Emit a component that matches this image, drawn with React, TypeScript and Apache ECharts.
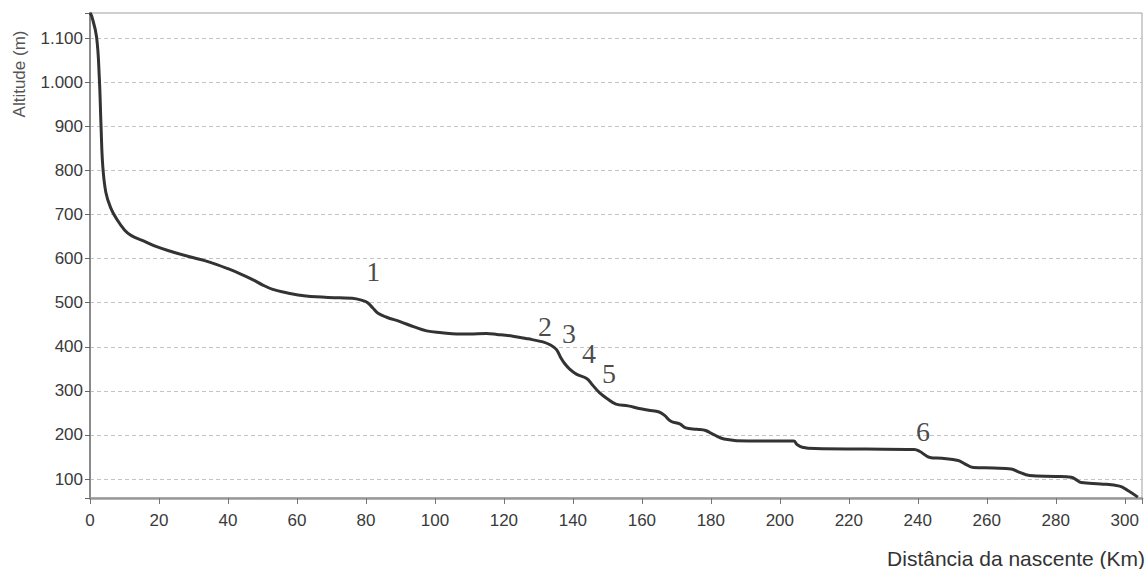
import React, { useEffect, useRef } from "react";
import * as echarts from "echarts";

// River longitudinal profile: distance from source (km) and altitude (m)
const distanceKm: number[] = [
  0, 0.5, 1.9, 2.7, 3.2, 3.7, 4.6, 6, 7.7, 10, 12, 15.5, 19.3, 24, 28.9, 33, 36.6, 40, 43.4, 47,
  50.1, 53, 56, 62.6, 72.3, 76, 79, 80.5, 82, 83.5, 86, 89.9, 94, 97.6, 102, 106.3, 110, 114.9,
  118, 122.6, 127, 131.3, 133.5, 135.2, 136.5, 137.6, 139, 141, 144, 145.5, 147.7, 150, 152.5,
  156, 159.2, 162, 165, 166.5, 168.4, 171, 172.7, 176, 178.5, 181, 183.8, 191, 198, 204, 205,
  206.5, 210.3, 225, 239, 240.5, 243.5, 247, 251.7, 253.5, 256.1, 262, 267.1, 269, 272.4, 280,
  284.5, 286, 287.4, 293, 298.5, 300.9, 303.8,
];
const altitudeM: number[] = [
  1157, 1150, 1103, 1010, 900, 810, 750, 715, 690, 665, 652, 640, 627, 615, 604, 596, 587, 577,
  566, 553, 540, 530, 524, 515, 511, 510, 505, 500, 488, 476, 467, 457, 445, 436, 432, 429, 429,
  430, 428, 424, 418, 411, 404, 394, 375, 362, 350, 338, 328, 315, 296, 282, 270, 266, 260, 256,
  252, 245, 231, 225, 216, 213, 210, 200, 191, 186, 186, 186, 178, 172, 169, 168, 167, 163, 149,
  147, 142, 135, 126, 125, 123, 117, 108, 106, 104, 98, 92, 89, 84, 74, 59,
];

// Numbered annotations (label, km, altitude)
const annotationLabels: string[] = ["1", "2", "3", "4", "5", "6"];
const annotationKm: number[] = [82.1, 131.9, 138.9, 144.7, 150.5, 241.5];
const annotationAlt: number[] = [570, 447, 431, 384, 340, 207];

const xTickStep = 20;
const yTickStep = 100;

const fmtY = (v: number): string => {
  if (v % yTickStep !== 0) return "";
  if (v >= 1000) {
    return `${Math.floor(v / 1000)}.${String(v % 1000).padStart(3, "0")}`;
  }
  return String(v);
};

export default function App() {
  const ref = useRef<HTMLDivElement>(null);

  useEffect(() => {
    document.body.style.margin = "0";
    if (!ref.current) return;
    const chart = echarts.init(ref.current, undefined, { renderer: "svg" });
    const lineData = distanceKm.map((d, i) => [d, altitudeM[i]]);
    const annData = annotationLabels.map((name, i) => ({
      name,
      value: [annotationKm[i], annotationAlt[i]],
    }));
    chart.setOption({
      animation: false,
      backgroundColor: "#ffffff",
      grid: {
        left: 90,
        right: 6,
        top: 13,
        bottom: 71,
        show: true,
        borderColor: "#a0a0a0",
        borderWidth: 1,
        outerBoundsMode: "none",
      },
      xAxis: {
        type: "value",
        min: 0,
        max: 305,
        interval: xTickStep,
        axisLine: { show: true, onZero: false, lineStyle: { color: "#999999", width: 2.5 } },
        axisTick: { show: true, length: 6, lineStyle: { color: "#777777", width: 1 } },
        axisLabel: {
          margin: 14,
          fontFamily: "Liberation Sans",
          fontSize: 17,
          color: "#3a3a3a",
          formatter: (v: number) => (v % xTickStep === 0 ? String(v) : ""),
        },
        splitLine: { show: false },
      },
      yAxis: {
        type: "value",
        min: 57,
        max: 1157,
        splitNumber: 11,
        minInterval: yTickStep,
        maxInterval: yTickStep,
        axisLine: { show: true, onZero: false, lineStyle: { color: "#8a8a8a", width: 2 } },
        axisTick: { show: true, length: 5, lineStyle: { color: "#666666", width: 1 } },
        axisLabel: {
          margin: 7,
          fontFamily: "Liberation Sans",
          fontSize: 17,
          color: "#3a3a3a",
          formatter: fmtY,
        },
        splitLine: {
          show: true,
          showMinLine: false,
          showMaxLine: false,
          lineStyle: { color: "#c4c4c4", width: 1, type: [4, 3] },
        },
      },
      series: [
        {
          type: "line",
          data: lineData,
          showSymbol: false,
          smooth: 0.4,
          lineStyle: { color: "#333333", width: 3 },
          z: 3,
        },
        {
          type: "scatter",
          data: annData,
          symbolSize: 1,
          itemStyle: { color: "rgba(0,0,0,0)" },
          label: {
            show: true,
            position: "inside",
            formatter: (p: any) => p.name,
            fontFamily: "Liberation Serif",
            fontSize: 28,
            color: "#1a1a1a",
          },
          z: 4,
        },
      ],
      graphic: [
        {
          type: "text",
          x: 19,
          y: 74,
          rotation: Math.PI / 2,
          style: {
            text: "Altitude (m)",
            font: '17px "Liberation Sans"',
            fill: "#555555",
            align: "center",
            verticalAlign: "middle",
          },
        },
        {
          type: "text",
          x: 1145,
          y: 558,
          style: {
            text: "Distância da nascente (Km)",
            font: '21px "Liberation Sans"',
            fill: "#333333",
            align: "right",
            verticalAlign: "middle",
          },
        },
      ],
    });
    return () => chart.dispose();
  }, []);

  return <div ref={ref} style={{ width: 1148, height: 569 }} />;
}
